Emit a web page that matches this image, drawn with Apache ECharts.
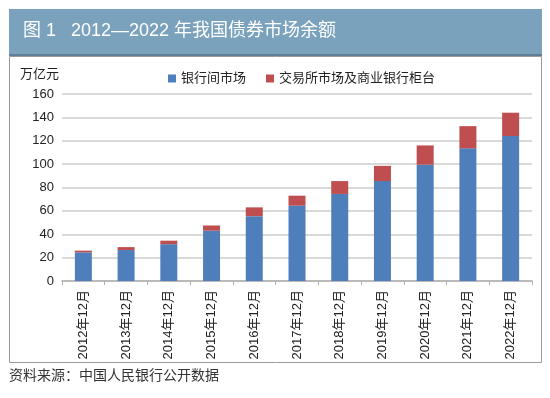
<!DOCTYPE html>
<html><head><meta charset="utf-8">
<script src="https://cdn.jsdelivr.net/npm/echarts@6/dist/echarts.min.js"></script>
<style>html,body{margin:0;padding:0;background:#fff}#c{width:550px;height:398px}</style>
</head><body><div id="c"></div>
<script>
var categories = ['2012年12月','2013年12月','2014年12月','2015年12月','2016年12月','2017年12月','2018年12月','2019年12月','2020年12月','2021年12月','2022年12月'];
var interbank = [24.5, 26.5, 31.5, 43, 55.5, 64.5, 74.5, 85.5, 99.5, 113.5, 124];
var exchange = [1.5, 2.5, 3, 4.5, 7.5, 8.5, 11, 13, 16.5, 19, 20];
var seriesNames = ['银行间市场', '交易所市场及商业银行柜台'];
var yTicks = [0, 20, 40, 60, 80, 100, 120, 140, 160];

var font = '"Liberation Sans", "Noto Sans CJK SC", Arial, sans-serif';
var chart = echarts.init(document.getElementById('c'), null, {renderer: 'canvas'});
chart.setOption({
  animation: false,
  textStyle: {fontFamily: font},
  graphic: [
    {type: 'rect', shape: {x: 9.5, y: 56.5, width: 532, height: 306}, style: {fill: '#fff', stroke: '#9a9a9a', lineWidth: 1}, z: -10},
    {type: 'rect', shape: {x: 9, y: 9, width: 533, height: 47}, style: {fill: '#7BA2BD'}, z: -5},
    {type: 'rect', shape: {x: 9, y: 54, width: 533, height: 2}, style: {fill: '#5E7F97'}, z: -4},
    {type: 'text', left: 23, top: 22, style: {text: '图 1   2012—2022 年我国债券市场余额', fill: '#fff', font: '18px ' + font}},
    {type: 'text', left: 20, top: 68, style: {text: '万亿元', fill: '#222', font: '13px ' + font}},
    {type: 'text', left: 9, top: 369, style: {text: '资料来源：中国人民银行公开数据', fill: '#333', font: '14px ' + font}}
  ],
  legend: {
    top: 67, left: 163, itemWidth: 8, itemHeight: 8, itemGap: 20,
    icon: 'rect',
    textStyle: {fontSize: 13, color: '#222', fontFamily: font},
    data: seriesNames
  },
  grid: {left: 62, right: 18, top: 94, bottom: 117},
  xAxis: {
    type: 'category', data: categories,
    axisLine: {lineStyle: {color: '#b0b0b0', width: 1.5}},
    axisTick: {show: true, length: 4, lineStyle: {color: '#b0b0b0'}},
    axisLabel: {rotate: 90, fontSize: 13, color: '#222', margin: 9, fontFamily: font}
  },
  yAxis: {
    type: 'value', min: yTicks[0], max: yTicks[yTicks.length - 1], interval: yTicks[1] - yTicks[0],
    axisLine: {show: false}, axisTick: {show: false},
    axisLabel: {fontSize: 13, color: '#222', margin: 8, fontFamily: font},
    splitLine: {lineStyle: {color: '#cccccc', width: 1.5}}
  },
  series: [
    {name: seriesNames[0], type: 'bar', stack: 't', data: interbank, barWidth: 17, itemStyle: {color: '#4F7FBB'}},
    {name: seriesNames[1], type: 'bar', stack: 't', data: exchange, barWidth: 17, itemStyle: {color: '#BE4E50'}}
  ]
});
</script></body></html>
